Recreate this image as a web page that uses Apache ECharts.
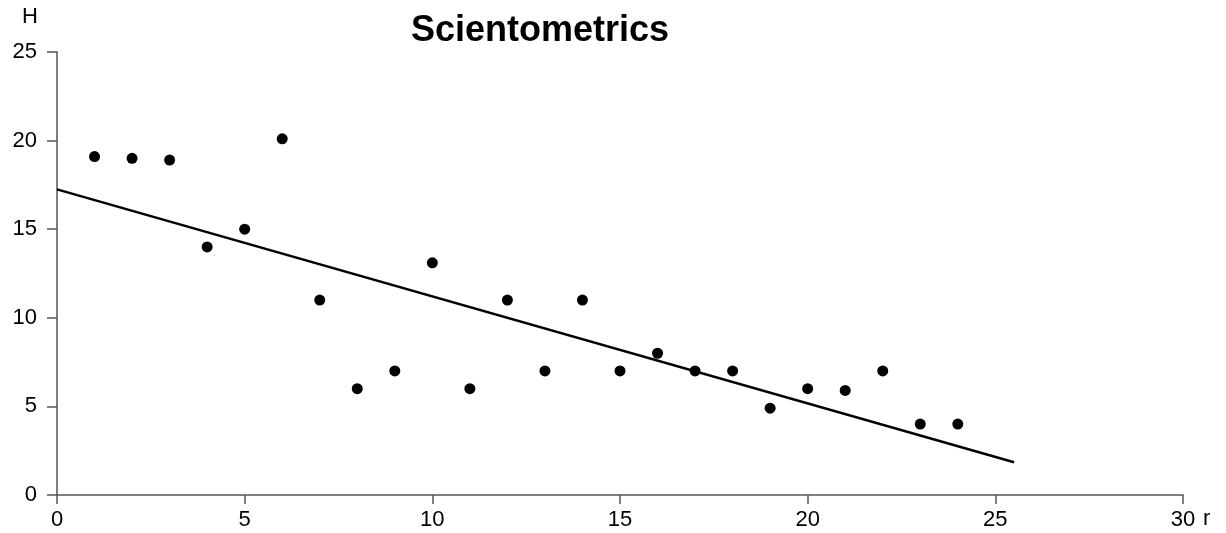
<!DOCTYPE html>
<html>
<head>
<meta charset="utf-8">
<script src="https://cdn.jsdelivr.net/npm/echarts@6/dist/echarts.min.js"></script>
<style>
    html, body { margin: 0; padding: 0; background: #fff; }
    #container { width: 1226px; height: 533px; }
</style>
</head>
<body>
<div id="container"></div>
<script>
// r (rank) and H values
var rValues = [1, 2, 3, 4, 5, 6, 7, 8, 9, 10, 11, 12, 13, 14, 15, 16, 17, 18, 19, 20, 21, 22, 23, 24];
var hValues = [19.1, 19, 18.9, 14, 15, 20.1, 11, 6, 7, 13.1, 6, 11, 7, 11, 7, 8, 7, 7, 4.9, 6, 5.9, 7, 4, 4];
// fitted trend line end points
var trendX = [0, 25.5];
var trendY = [17.25, 1.85];

var points = [];
for (var i = 0; i < rValues.length; i++) {
    points.push([rValues[i], hValues[i]]);
}
var trend = [];
for (var j = 0; j < trendX.length; j++) {
    trend.push([trendX[j], trendY[j]]);
}

var axisColor = '#555';
var font = 'Liberation Sans, Arial, sans-serif';

var option = {
    animation: false,
    title: {
        text: 'Scientometrics',
        left: 535,
        textAlign: 'center',
        top: 8,
        textStyle: { fontFamily: font, fontSize: 36, fontWeight: 'bold', color: '#000' }
    },
    grid: { left: 57, right: 43, top: 52, bottom: 38 },
    xAxis: {
        type: 'value',
        min: 0, max: 30, interval: 5,
        name: 'r',
        nameLocation: 'end',
        nameGap: 20,
        nameTextStyle: { fontFamily: font, fontSize: 22, color: '#000', verticalAlign: 'top', padding: [13, 0, 0, 0] },
        axisLine: { show: true, lineStyle: { color: axisColor, width: 1.5 } },
        axisTick: { show: true, length: 9, lineStyle: { color: axisColor, width: 1.5 } },
        axisLabel: { fontFamily: font, fontSize: 22, color: '#000', margin: 14 },
        splitLine: { show: false }
    },
    yAxis: {
        type: 'value',
        min: 0, max: 25, interval: 5,
        name: 'H',
        nameLocation: 'end',
        nameGap: 24,
        nameTextStyle: { fontFamily: font, fontSize: 22, color: '#000', align: 'center', padding: [0, 54, 0, 0] },
        axisLine: { show: true, lineStyle: { color: axisColor, width: 1.5 } },
        axisTick: { show: true, length: 10, lineStyle: { color: axisColor, width: 1.5 } },
        axisLabel: { fontFamily: font, fontSize: 22, color: '#000', margin: 20 },
        splitLine: { show: false }
    },
    series: [
        {
            type: 'line',
            data: trend,
            symbol: 'none',
            lineStyle: { color: '#000', width: 2.5 },
            z: 2
        },
        {
            type: 'scatter',
            data: points,
            symbol: 'circle',
            symbolSize: 11,
            itemStyle: { color: '#000', opacity: 1 },
            z: 3
        }
    ]
};

echarts.init(document.getElementById('container')).setOption(option);
</script>
</body>
</html>
